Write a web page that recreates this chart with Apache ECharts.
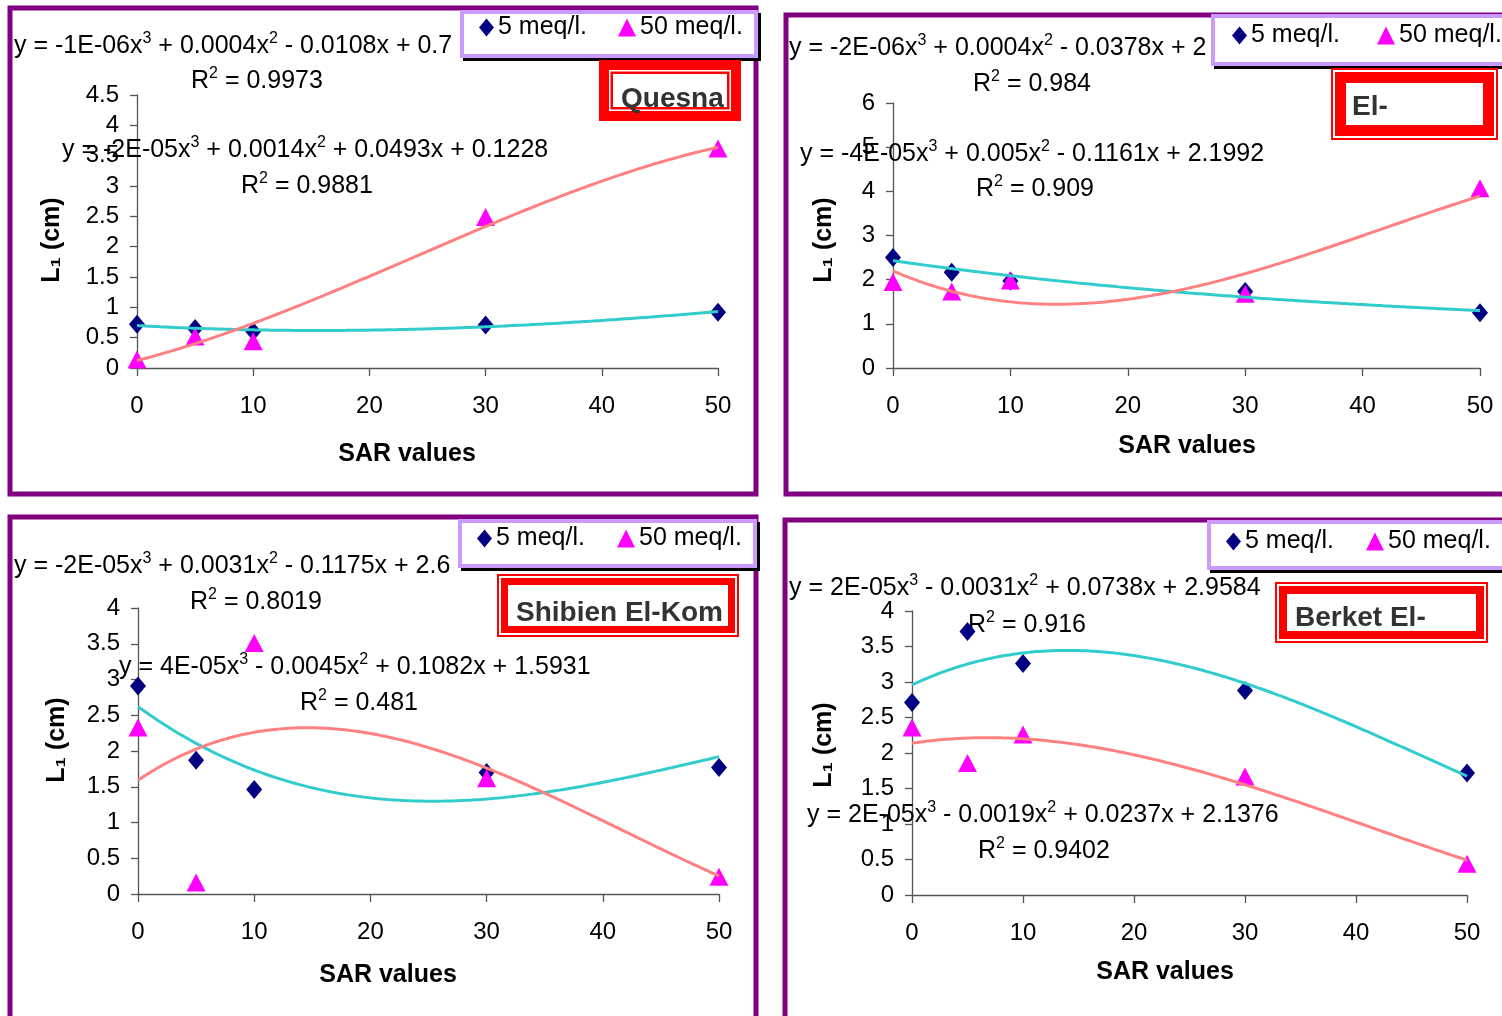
<!DOCTYPE html>
<html>
<head>
<meta charset="utf-8">
<script src="https://cdn.jsdelivr.net/npm/echarts@6/dist/echarts.min.js"></script>
<style>
html,body{margin:0;padding:0;background:#fff;}
#chart{width:1502px;height:1016px;}
</style>
</head>
<body>
<div id="chart"></div>
<script>
// ---------- data ----------
const SAR = [0, 5, 10, 30, 50];
const quesna5  = [0.72, 0.65, 0.60, 0.71, 0.92];
const quesna50 = [0.14, 0.52, 0.44, 2.49, 3.62];
const el5      = [2.50, 2.17, 1.97, 1.73, 1.25];
const el50     = [1.95, 1.73, 1.98, 1.68, 4.07];
const shibien5  = [2.91, 1.87, 1.46, 1.70, 1.77];
const shibien50 = [2.33, 0.16, 3.51, 1.62, 0.24];
const berket5  = [2.71, 3.71, 3.26, 2.88, 1.72];
const berket50 = [2.36, 1.86, 2.26, 1.67, 0.44];
// trendline coefficients [x^3, x^2, x, const] (as printed on the chart, unrounded estimate)
const quesnaFit5   = [-1.44e-6, 0.00038, -0.0108, 0.70];
const quesnaFit50  = [-1.96e-5, 0.0014, 0.0493, 0.1228];
const elFit5       = [-1.92e-6, 0.0004, -0.0378, 2.43];
const elFit50      = [-4.0e-5, 0.005, -0.1161, 2.1992];
const shibienFit5  = [-2.06e-5, 0.0031, -0.1175, 2.62];
const shibienFit50 = [3.6e-5, -0.0045, 0.1082, 1.5931];
const berketFit5   = [2.22e-5, -0.0031, 0.0738, 2.9584];
const berketFit50  = [1.534e-5, -0.0019, 0.0237, 2.1376];

const seriesNames = ['5 meq/l.', '50 meq/l.'];
const panelTitles = ['Quesna', 'El-', 'Shibien El-Kom', 'Berket El-'];
const yMaxes = [4.5, 6, 4, 4];
const yIntervals = [0.5, 1, 0.5, 0.5];
const xTitle = 'SAR values';
const yTitle = 'L\u2081 (cm)';
const eq5 = [
  'y = -1E-06x^3 + 0.0004x^2 - 0.0108x + 0.7',
  'y = -2E-06x^3 + 0.0004x^2 - 0.0378x + 2',
  'y = -2E-05x^3 + 0.0031x^2 - 0.1175x + 2.6',
  'y = 2E-05x^3 - 0.0031x^2 + 0.0738x + 2.9584'];
const r2_5 = ['R^2 = 0.9973', 'R^2 = 0.984', 'R^2 = 0.8019', 'R^2 = 0.916'];
const eq50 = [
  'y = -2E-05x^3 + 0.0014x^2 + 0.0493x + 0.1228',
  'y = -4E-05x^3 + 0.005x^2 - 0.1161x + 2.1992',
  'y = 4E-05x^3 - 0.0045x^2 + 0.1082x + 1.5931',
  'y = 2E-05x^3 - 0.0019x^2 + 0.0237x + 2.1376'];
const r2_50 = ['R^2 = 0.9881', 'R^2 = 0.909', 'R^2 = 0.481', 'R^2 = 0.9402'];

const data5  = [quesna5, el5, shibien5, berket5];
const data50 = [quesna50, el50, shibien50, berket50];
const fit5  = [quesnaFit5, elFit5, shibienFit5, berketFit5];
const fit50 = [quesnaFit50, elFit50, shibienFit50, berketFit50];

// ---------- layout ----------
const FONT = '"Liberation Sans", Arial, sans-serif';
const grids = [
  {left: 137, right: 784, top: 95,  bottom: 648},
  {left: 893, right: 22,  top: 103, bottom: 648},
  {left: 138, right: 783, top: 608, bottom: 122},
  {left: 912, right: 35,  top: 611, bottom: 121}
];
const borders = [
  {x: 10, y: 8, width: 746, height: 486},
  {x: 786, y: 15, width: 730, height: 479},
  {x: 10, y: 517, width: 746, height: 530},
  {x: 785, y: 520, width: 730, height: 530}
];
const legendBoxes = [
  {x: 462, y: 12, width: 294, height: 44},
  {x: 1213, y: 16, width: 300, height: 48},
  {x: 460, y: 521, width: 295, height: 45},
  {x: 1209, y: 522, width: 300, height: 46}
];
const legendPos = [
  [[479, 15], [618, 15]],
  [[1232, 23], [1377, 23]],
  [[477, 526], [617, 526]],
  [[1226, 529], [1366, 529]]
];
const redBoxes = [
  {x: 599, y: 60, w: 142, h: 61, a: 10, g: 1.5, b: 2.5, tx: 621, ty: 99},
  {x: 1331, y: 68, w: 167, h: 72, a: 2, g: 2, b: 11, tx: 1352, ty: 107},
  {x: 497, y: 574, w: 242, h: 63, a: 2, g: 2, b: 7, tx: 516, ty: 613},
  {x: 1275, y: 582, w: 213, h: 61, a: 2, g: 2, b: 8, tx: 1295, ty: 618}
];
const eqPos5  = [[14, 46, 191, 81], [789, 48, 973, 84], [14, 566, 190, 602], [789, 588, 968, 625]];
const eqPos50 = [[62, 150, 241, 186], [800, 154, 976, 189], [119, 667, 300, 703], [807, 815, 978, 851]];
const xTitlePos = [[407, 454], [1187, 446], [388, 975], [1165, 972]];
const yTitlePos = [[52, 240], [824, 240], [57, 740], [824, 745]];

// ---------- trendline sampled from printed polynomial ----------
function trend(coef) {
  const out = [];
  for (let i = 0; i <= 200; i++) {
    const x = 50 * i / 200;
    out.push([x, ((coef[0] * x + coef[1]) * x + coef[2]) * x + coef[3]]);
  }
  return out;
}
function toRich(s) {
  return s.replace(/\^(\d)/g, '{s|$1}');
}

// ---------- build option ----------
const xAxes = [], yAxes = [], series = [], legends = [], graphics = [];
for (let p = 0; p < 4; p++) {
  xAxes.push({
    type: 'value', gridIndex: p, min: 0, max: 50, interval: 10,
    axisLine: {show: true, onZero: false, lineStyle: {color: '#555', width: 1.3}},
    axisTick: {show: true, length: 8, lineStyle: {color: '#555', width: 1.3}},
    axisLabel: {fontSize: 24, color: '#000', fontFamily: FONT, margin: 26},
    splitLine: {show: false}
  });
  yAxes.push({
    type: 'value', gridIndex: p, min: 0, max: yMaxes[p], interval: yIntervals[p],
    axisLine: {show: true, onZero: false, lineStyle: {color: '#555', width: 1.3}},
    axisTick: {show: true, length: 7, lineStyle: {color: '#555', width: 1.3}},
    axisLabel: {fontSize: 24, color: '#000', fontFamily: FONT, margin: 18},
    splitLine: {show: false}
  });
  series.push({
    name: seriesNames[0], type: 'scatter', xAxisIndex: p, yAxisIndex: p,
    data: SAR.map((x, j) => [x, data5[p][j]]),
    symbol: 'diamond', symbolSize: [16, 19], itemStyle: {color: '#000080', opacity: 1}, z: 3, silent: true
  });
  series.push({
    name: seriesNames[1], type: 'scatter', xAxisIndex: p, yAxisIndex: p,
    data: SAR.map((x, j) => [x, data50[p][j]]),
    symbol: 'triangle', symbolSize: [19, 18], itemStyle: {color: '#FF00FF', opacity: 1}, z: 4, silent: true
  });
  series.push({
    name: 'trend5_' + p, type: 'line', xAxisIndex: p, yAxisIndex: p,
    data: trend(fit5[p]), showSymbol: false, symbol: 'none',
    lineStyle: {color: '#33CCCC', width: 3}, itemStyle: {color: '#33CCCC'}, z: 5, silent: true
  });
  series.push({
    name: 'trend50_' + p, type: 'line', xAxisIndex: p, yAxisIndex: p,
    data: trend(fit50[p]), showSymbol: false, symbol: 'none',
    lineStyle: {color: '#FF8080', width: 3}, itemStyle: {color: '#FF8080'}, z: 5, silent: true
  });
  legends.push({
    data: [seriesNames[0]], left: legendPos[p][0][0], top: legendPos[p][0][1],
    padding: 0, itemGap: 0, itemWidth: 15, itemHeight: 18, selectedMode: false, z: 12,
    itemStyle: {opacity: 1},
    textStyle: {fontSize: 25, color: '#000', fontFamily: FONT, padding: [0, 0, 0, -1]}
  });
  legends.push({
    data: [seriesNames[1]], left: legendPos[p][1][0], top: legendPos[p][1][1],
    padding: 0, itemGap: 0, itemWidth: 18, itemHeight: 18, selectedMode: false, z: 12,
    itemStyle: {opacity: 1},
    textStyle: {fontSize: 25, color: '#000', fontFamily: FONT, padding: [0, 0, 0, -1]}
  });
  graphics.push({type: 'rect', shape: borders[p], z: 6, silent: true,
    style: {fill: 'none', stroke: '#800080', lineWidth: 5}});
  const lb = legendBoxes[p];
  graphics.push({type: 'rect', shape: {x: lb.x + 3, y: lb.y + 3, width: lb.width, height: lb.height}, z: 8,
    silent: true, style: {fill: '#000', stroke: '#000', lineWidth: 4}});
  graphics.push({type: 'rect', shape: lb, z: 9, silent: true,
    style: {fill: '#fff', stroke: '#CC99FF', lineWidth: 4}});
  const rb = redBoxes[p];
  const layers = [[0, '#FF0000'], [rb.a, '#FFFFFF'], [rb.a + rb.g, '#FF0000'], [rb.a + rb.g + rb.b, '#FFFFFF']];
  layers.forEach(([ins, col]) => {
    graphics.push({type: 'rect', z: 20, silent: true,
      shape: {x: rb.x + ins, y: rb.y + ins, width: rb.w - 2 * ins, height: rb.h - 2 * ins},
      style: {fill: col}});
  });
  graphics.push({type: 'text', z: 21, silent: true, x: rb.tx, y: rb.ty,
    style: {text: panelTitles[p], fill: '#333333', font: 'bold 28px ' + FONT,
      align: 'left', verticalAlign: 'middle', textAlign: 'left', textVerticalAlign: 'middle'}});
  const addText = (txt, x, y) => graphics.push({type: 'text', z: 1, silent: true, x: x, y: y,
    style: {text: toRich(txt), fill: '#000', font: '25px ' + FONT, fontSize: 25, fontFamily: FONT, lineHeight: 30,
      align: 'left', verticalAlign: 'middle', textAlign: 'left', textVerticalAlign: 'middle',
      rich: {s: {fontSize: 16, fontFamily: FONT, fill: '#000', lineHeight: 16, verticalAlign: 'top'}}}});
  addText(eq5[p], eqPos5[p][0], eqPos5[p][1]);
  addText(r2_5[p], eqPos5[p][2], eqPos5[p][3]);
  addText(eq50[p], eqPos50[p][0], eqPos50[p][1]);
  addText(r2_50[p], eqPos50[p][2], eqPos50[p][3]);
  graphics.push({type: 'text', z: 2, silent: true, x: xTitlePos[p][0], y: xTitlePos[p][1],
    style: {text: xTitle, fill: '#000', font: 'bold 25px ' + FONT,
      align: 'center', verticalAlign: 'middle', textAlign: 'center', textVerticalAlign: 'middle'}});
  graphics.push({type: 'text', z: 2, silent: true, x: yTitlePos[p][0], y: yTitlePos[p][1], rotation: Math.PI / 2,
    style: {text: yTitle, fill: '#000', font: 'bold 25px ' + FONT,
      align: 'center', verticalAlign: 'middle', textAlign: 'center', textVerticalAlign: 'middle'}});
}

const chart = echarts.init(document.getElementById('chart'), null, {renderer: 'canvas'});
chart.setOption({
  backgroundColor: '#ffffff',
  animation: false,
  grid: grids,
  xAxis: xAxes,
  yAxis: yAxes,
  legend: legends,
  series: series,
  graphic: {elements: graphics}
});
</script>
</body>
</html>
